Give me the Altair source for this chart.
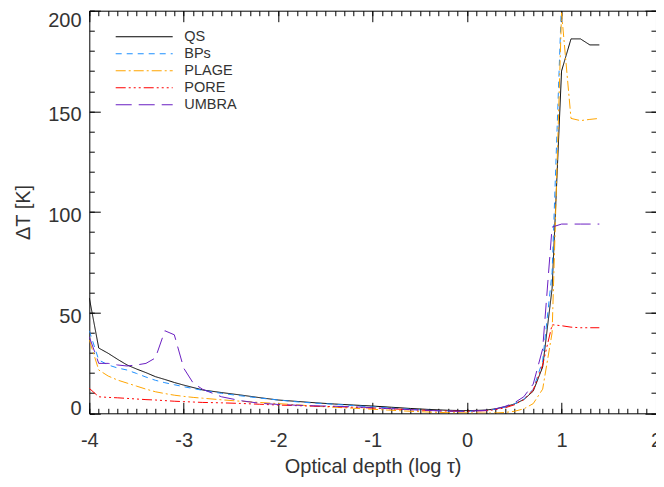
import altair as alt
import pandas as pd

# ---------------- data ----------------
X = [-4.0, -3.9, -3.8, -3.7, -3.6, -3.5, -3.4, -3.3, -3.2, -3.1, -3.0, -2.9, -2.8,
     -2.6, -2.4, -2.2, -2.0, -1.8, -1.6, -1.4, -1.2, -1.0, -0.8, -0.6, -0.4, -0.2,
     0.0, 0.2, 0.3, 0.4, 0.5, 0.6, 0.7, 0.8, 0.9, 1.0, 1.1, 1.2, 1.3, 1.4]

QS = [57.3, 32.4, 29.8, 26.8, 24.0, 22.0, 20.2, 18.2, 16.8, 15.3, 14.0, 12.8, 11.6,
      10.3, 9.1, 7.8, 6.6, 5.9, 5.2, 4.6, 4.1, 3.6, 3.0, 2.4, 1.9, 1.5,
      1.3, 1.6, 2.2, 3.2, 4.6, 6.8, 11.0, 23.0, 62.0, 170.0, 186.0, 186.0, 183.0, 183.0]

BPS = [41.0, 26.5, 24.0, 22.5, 21.5, 19.8, 18.0, 16.4, 15.2, 14.2, 13.2, 12.3, 11.4,
       9.9, 8.7, 7.6, 6.6, 5.7, 5.0, 4.5, 3.8, 3.2, 2.6, 2.0, 1.5, 1.1,
       1.0, 1.4, 2.0, 3.0, 4.6, 7.0, 12.0, 26.0, 70.0, 205.0, 260.0, 262.0, 260.0, 258.0]

PLAGE = [36.4, 21.5, 18.5, 16.5, 15.0, 13.5, 12.0, 10.7, 9.8, 9.0, 8.4, 7.9, 7.5,
         6.7, 6.0, 5.4, 4.8, 4.2, 3.5, 3.0, 2.5, 2.0, 1.5, 1.0, 0.6, 0.3,
         0.2, 0.1, 0.2, 0.4, 1.0, 2.2, 4.8, 12.0, 40.0, 199.0, 146.5, 145.4, 146.0, 146.5]

PORE = [12.4, 8.2, 7.9, 7.7, 7.4, 7.1, 6.8, 6.6, 6.3, 6.0, 5.8, 5.6, 5.4,
        5.2, 4.9, 4.5, 4.1, 3.8, 3.5, 3.3, 3.0, 2.6, 2.2, 1.8, 1.4, 1.1,
        1.0, 1.3, 1.8, 2.7, 4.2, 6.8, 11.5, 24.0, 44.0, 43.5, 42.8, 42.5, 42.5, 42.5]

UMBRA = [38.0, 24.8, 24.8, 24.0, 23.5, 24.0, 24.8, 27.5, 41.0, 39.0, 22.4, 15.0, 11.9,
         8.2, 6.3, 5.0, 4.4, 4.0, 3.7, 3.5, 3.2, 2.8, 2.3, 1.8, 1.4, 1.1,
         1.0, 1.5, 2.2, 3.4, 5.2, 8.2, 14.5, 32.0, 92.5, 94.0, 94.0, 94.0, 94.0, 94.0]

NAMES = ["QS", "BPs", "PLAGE", "PORE", "UMBRA"]
COLORS = ["#000000", "#1E90FF", "#FFA500", "#FF0000", "#6A1FC2"]
DASHES = [[1, 0], [6, 5], [10, 3, 2, 3], [10, 3, 2, 3, 2, 3, 2, 3], [16, 7]]

X_MAJOR = [-4, -3, -2, -1, 0, 1, 2]
X_MINOR = [round(-4 + 0.1 * i, 1) for i in range(61)]
Y_MAJOR = [0, 50, 100, 150, 200]
Y_MINOR = list(range(0, 201, 10))

# ---------------- table ----------------
rows = []
for k, (name, vals) in enumerate(zip(NAMES, [QS, BPS, PLAGE, PORE, UMBRA])):
    for xv, yv in zip(X, vals):
        rows.append({"x": xv, "y": yv, "series": name, "k": k})
df = pd.DataFrame(rows)

FONT = "Liberation Sans"
TXT = "#333333"
W, H = 566.7, 402.6

xs = alt.Scale(domain=[-4, 2], nice=False, zero=False)
ys = alt.Scale(domain=[0, 200], nice=False, zero=False)


def tick_axis(orient, values, size):
    return alt.Axis(orient=orient, values=values, tickSize=size, offset=-size,
                    domain=False, grid=False, labels=False, title=None,
                    tickColor="#000000", tickWidth=1)


legend = alt.Legend(
    title=None, orient="none", legendX=25.4, legendY=18.3, padding=0,
    symbolType="stroke", symbolSize=3249, symbolStrokeWidth=1.2, clipHeight=15.5,
    rowPadding=0, labelOffset=10.6, labelFont=FONT, labelFontSize=14.5,
    labelColor=TXT, labelLimit=200,
)

main = alt.Chart(df).mark_line(strokeWidth=1, clip=True).encode(
    x=alt.X("x:Q", scale=xs, axis=alt.Axis(
        orient="bottom", values=X_MAJOR, tickSize=11, offset=-11, domain=False,
        grid=False, labelFont=FONT, labelFontSize=20, labelColor=TXT,
        labelPadding=17, labelFlush=False, labelExpr="'' + datum.value",
        title="Optical depth (log τ)", titleFont=FONT, titleFontSize=20,
        titleColor=TXT, titleFontWeight="normal", titlePadding=6.5,
        tickColor="#000000", tickWidth=1)),
    y=alt.Y("y:Q", scale=ys, axis=alt.Axis(
        orient="left", values=Y_MAJOR, tickSize=11, offset=-11, domain=False,
        grid=False, labelFont=FONT, labelFontSize=20, labelColor=TXT,
        labelPadding=8.3, labelFlush=False,
        labelOffset={"condition": [{"test": "datum.value === 0", "value": -5},
                                   {"test": "datum.value === 200", "value": 10}],
                     "value": 3.5},
        title="ΔT [K]", titleFont=FONT, titleFontSize=20, titleColor=TXT,
        titleFontWeight="normal", titlePadding=14,
        tickColor="#000000", tickWidth=1)),
    color=alt.Color("series:N", scale=alt.Scale(domain=NAMES, range=COLORS), legend=legend),
    strokeDash=alt.StrokeDash("series:N", scale=alt.Scale(domain=NAMES, range=DASHES), legend=legend),
    order=alt.Order("x:Q"),
)


def ghost(xaxis, yaxis):
    return alt.Chart(df).mark_point(opacity=0, size=1).encode(
        x=alt.X("x:Q", scale=xs, axis=xaxis),
        y=alt.Y("y:Q", scale=ys, axis=yaxis),
    )


g_minor = ghost(tick_axis("bottom", X_MINOR, 5), tick_axis("left", Y_MINOR, 5))
g_top = ghost(tick_axis("top", X_MAJOR, 11), tick_axis("right", Y_MAJOR, 11))
g_top_minor = ghost(tick_axis("top", X_MINOR, 5), tick_axis("right", Y_MINOR, 5))

chart = alt.layer(main, g_minor, g_top, g_top_minor).resolve_axis(
    x="independent", y="independent"
).properties(
    width=W, height=H,
    padding={"left": 81.3, "top": 2.7, "right": 0, "bottom": 64},
    autosize=alt.AutoSizeParams(type="none"),
    background="white",
).configure_view(stroke="#000000", strokeWidth=1)

chart.save("out.html", embed_options={"renderer": "svg", "actions": False})
